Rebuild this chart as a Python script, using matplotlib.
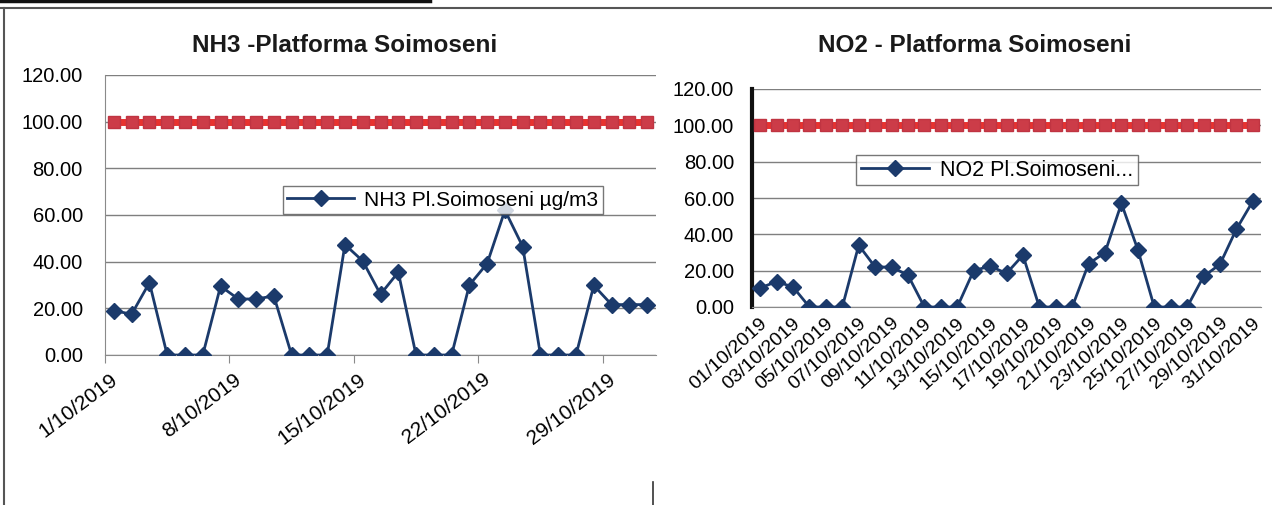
import matplotlib
matplotlib.use("Agg")
import matplotlib.pyplot as plt
from matplotlib.lines import Line2D
from matplotlib.transforms import ScaledTranslation

plt.rcParams['font.family'] = ['Liberation Sans', 'DejaVu Sans']

days = list(range(1, 32))
nh3_values = [19, 17.5, 31, 0, 0, 0, 29.5, 24, 24, 25.3, 0, 0, 0, 47.3, 40.3, 26, 35.5, 0, 0, 0,
              30, 39.2, 62, 46.5, 0, 0, 0, 29.8, 21.6, 21.6, 21.6]
no2_values = [10.5, 14, 11, 0, 0, 0, 34, 22, 22, 17.5, 0, 0, 0, 20, 22.5, 18.5, 28.5, 0, 0, 0,
              23.8, 30, 57, 31.5, 0, 0, 0, 16.8, 23.5, 42.8, 58.2]
limit_values = [100] * 31
nh3_tick_days = [1, 8, 15, 22, 29]
nh3_tick_labels = ['1/10/2019', '8/10/2019', '15/10/2019', '22/10/2019', '29/10/2019']
no2_tick_days = list(range(1, 32, 2))
no2_tick_labels = ['%02d/10/2019' % d for d in no2_tick_days]
y_ticks = [0, 20, 40, 60, 80, 100, 120]

W, H = 1272, 505
fig = plt.figure(figsize=(W / 100, H / 100), dpi=100)

navy = '#1b3a6b'
red = '#e8322f'


def fx(px):
    return px / W


def fy(py):
    return 1 - py / H


def style_axes(ax, pad):
    ax.set_ylim(0, 120)
    ax.set_xlim(0.5, 31.5)
    ax.set_yticks(y_ticks)
    ax.set_yticklabels(['%.2f' % v for v in y_ticks], fontsize=14.5)
    ax.grid(axis='y', color='#7f7f7f', linewidth=1)
    ax.set_axisbelow(True)
    for s in ['top', 'right']:
        ax.spines[s].set_visible(False)
    ax.spines['bottom'].set_color('#8a8a8a')
    ax.tick_params(axis='y', length=0, pad=pad)


def draw(ax, values, label):
    ax.plot(days, limit_values, color=red, linewidth=5, marker='s', markersize=9,
            markerfacecolor='#cc3c48', markeredgecolor='#c03442', zorder=3)
    ax.plot(days, values, color=navy, linewidth=2, marker='D', markersize=8.5,
            markerfacecolor=navy, markeredgecolor=navy, zorder=4, label=label)


def shift_labels(ax, dx_px):
    off = ScaledTranslation(dx_px / 100, 0, fig.dpi_scale_trans)
    for lbl in ax.get_xticklabels():
        lbl.set_transform(lbl.get_transform() + off)


# NH3
ax1 = fig.add_axes([fx(105), fy(355), fx(656 - 105), fy(75) - fy(355)])
style_axes(ax1, 16)
draw(ax1, nh3_values, 'NH3 Pl.Soimoseni µg/m3')
ax1.spines['left'].set_color('#8a8a8a')
ax1.set_xticks([d - 0.5 for d in nh3_tick_days])
ax1.set_xticklabels(nh3_tick_labels, rotation=37, ha='right', va='center',
                    rotation_mode='anchor', fontsize=15)
ax1.tick_params(axis='x', length=6, color='#8a8a8a', pad=10)
shift_labels(ax1, 10)
leg1 = ax1.legend(loc='center', fontsize=15, frameon=True, fancybox=False, edgecolor='#555555',
                  handlelength=3.2, borderpad=0.2, handletextpad=0.5)
leg1.set_bbox_to_anchor((fx(443), fy(200)), transform=fig.transFigure)

fig.text(fx(345), fy(45), 'NH3 -Platforma Soimoseni', ha='center', va='center',
         fontsize=17.5, fontweight='bold', color='#1a1a1a')

# NO2
ax2 = fig.add_axes([fx(752), fy(307), fx(1261 - 752), fy(89) - fy(307)])
style_axes(ax2, 13)
draw(ax2, no2_values, 'NO2 Pl.Soimoseni...')
ax2.spines['left'].set_color('#111111')
ax2.spines['left'].set_linewidth(3)
ax2.set_xticks(no2_tick_days)
ax2.set_xticklabels(no2_tick_labels, rotation=42, ha='right', va='center',
                    rotation_mode='anchor', fontsize=14)
ax2.tick_params(axis='x', length=0, pad=10)
shift_labels(ax2, 5)
leg2 = ax2.legend(loc='center', fontsize=15.5, frameon=True, fancybox=False,
                  edgecolor='#555555', handlelength=3.2, borderpad=0.2, handletextpad=0.5)
leg2.set_bbox_to_anchor((fx(997), fy(170)), transform=fig.transFigure)

fig.text(fx(975), fy(45), 'NO2 - Platforma Soimoseni', ha='center', va='center',
         fontsize=17.5, fontweight='bold', color='#1a1a1a')

# frame lines of the scanned page
fig.add_artist(Line2D([0, 1], [fy(8), fy(8)], transform=fig.transFigure, color='#555555', linewidth=1.5))
fig.add_artist(Line2D([fx(4), fx(4)], [fy(8), 0], transform=fig.transFigure, color='#555555', linewidth=1.5))
fig.add_artist(Line2D([0, fx(430)], [fy(1), fy(1)], transform=fig.transFigure, color='#111111', linewidth=2.5))
fig.add_artist(Line2D([fx(653), fx(653)], [fy(482), 0], transform=fig.transFigure, color='#333333', linewidth=1.2))

fig.savefig('out.png', dpi=100, facecolor='white')
